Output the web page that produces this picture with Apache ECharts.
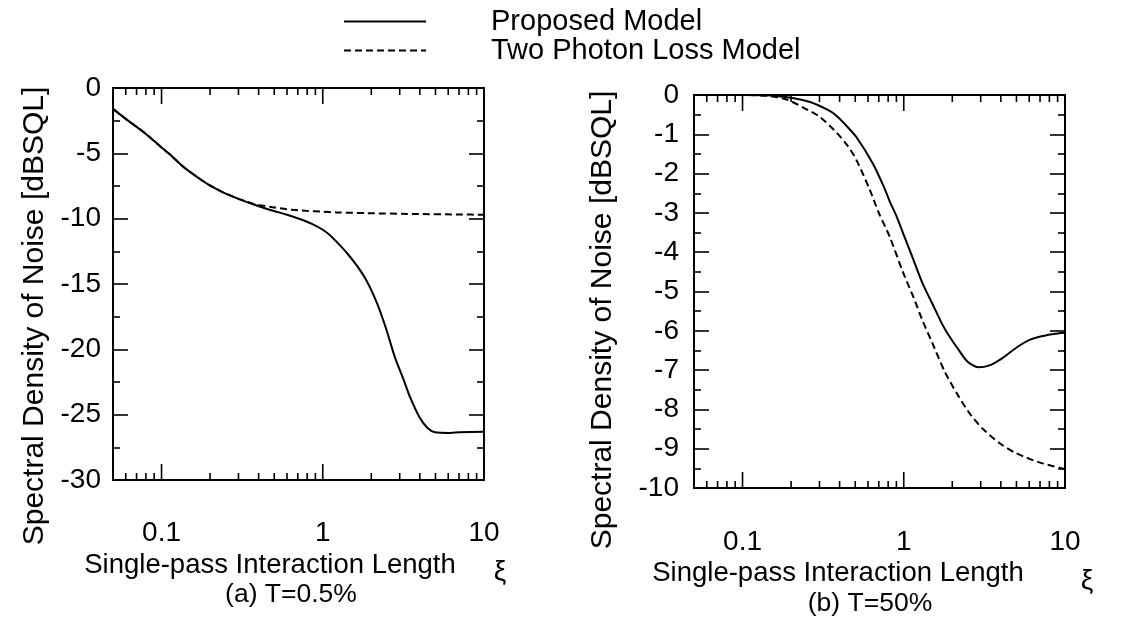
<!DOCTYPE html>
<html>
<head>
<meta charset="utf-8">
<script src="https://cdn.jsdelivr.net/npm/echarts@6/dist/echarts.min.js"></script>
<style>
  html, body { margin: 0; padding: 0; background: #fff; }
  #chart { width: 1128px; height: 618px; }
</style>
</head>
<body>
<div id="chart"></div>
<script>
// (a) T = 0.5 %
const xiProposedA = [0.05, 0.062, 0.078, 0.1, 0.112, 0.137, 0.168, 0.197, 0.242, 0.303, 0.381, 0.478, 0.6, 0.75, 0.857, 1.0, 1.116, 1.45, 1.81, 2.15, 2.46, 2.8, 3.2, 3.49, 3.98, 4.45, 4.96, 6.17, 7.04, 10];
const proposedA = [-1.6, -2.5, -3.4, -4.55, -5.05, -6.05, -6.85, -7.42, -8.0, -8.5, -8.95, -9.35, -9.7, -10.1, -10.4, -10.85, -11.3, -12.8, -14.45, -16.35, -18.35, -20.6, -22.45, -23.7, -25.2, -26.0, -26.35, -26.4, -26.35, -26.3];
const xiTwoPhotonA = [0.05, 0.062, 0.078, 0.1, 0.112, 0.137, 0.168, 0.197, 0.242, 0.303, 0.381, 0.478, 0.6, 0.785, 1.0, 1.22, 1.89, 3.64, 7.04, 10];
const twoPhotonA = [-1.6, -2.5, -3.4, -4.55, -5.05, -6.05, -6.85, -7.42, -8.0, -8.5, -8.9, -9.1, -9.28, -9.4, -9.47, -9.52, -9.58, -9.64, -9.68, -9.7];

// (b) T = 50 %
const xiProposedB = [0.05, 0.1, 0.15, 0.19, 0.262, 0.345, 0.382, 0.44, 0.508, 0.644, 0.755, 0.817, 0.905, 0.987, 1.15, 1.31, 1.5, 1.74, 1.89, 2.16, 2.48, 2.9, 3.4, 4.07, 5.11, 6.13, 7.35, 8.5, 10];
const proposedB = [0, 0, -0.01, -0.06, -0.18, -0.4, -0.53, -0.78, -1.07, -1.75, -2.35, -2.7, -3.1, -3.5, -4.2, -4.8, -5.3, -5.85, -6.1, -6.45, -6.78, -6.93, -6.88, -6.7, -6.4, -6.22, -6.13, -6.08, -6.05];
const xiTwoPhotonB = [0.05, 0.1, 0.15, 0.19, 0.238, 0.30, 0.382, 0.45, 0.508, 0.614, 0.7, 0.817, 0.987, 1.15, 1.31, 1.5, 1.8, 2.16, 2.59, 3.1, 3.9, 4.89, 6.13, 7.35, 10];
const twoPhotonB = [0, 0, -0.03, -0.12, -0.32, -0.55, -0.95, -1.3, -1.65, -2.4, -3.0, -3.6, -4.5, -5.15, -5.75, -6.3, -7.05, -7.63, -8.13, -8.5, -8.85, -9.1, -9.27, -9.38, -9.52];

// Log-axis tick marks: decades (major) and 2..9 multiples (minor)
const xMajorTicks = [0.1, 1, 10];
const xMinorTicks = [0.06, 0.07, 0.08, 0.09, 0.2, 0.3, 0.4, 0.5, 0.6, 0.7, 0.8, 0.9, 2, 3, 4, 5, 6, 7, 8, 9];
const xRange = [0.05, 10];
const yRangeA = [-30, 0];
const yRangeB = [-10, 0];

const FONT = "'Liberation Sans', Arial, Helvetica, sans-serif";
const zip = (xs, ys) => xs.map((x, i) => [x, ys[i]]);

const tickData = xMajorTicks.map(v => [v, 1]).concat(xMinorTicks.map(v => [v, 0]));

// Inward tick marks on the bottom and top edges of a log x axis
function tickSeries(gridIndex, yRange) {
  return {
    type: 'custom',
    xAxisIndex: gridIndex,
    yAxisIndex: gridIndex * 2,
    silent: true,
    clip: false,
    z: 5,
    data: tickData,
    encode: { x: 0 },
    renderItem(params, api) {
      const v = api.value(0);
      const len = api.value(1) === 1 ? 16 : 7;
      const b = api.coord([v, yRange[0]]);
      const t = api.coord([v, yRange[1]]);
      const st = { stroke: '#000', lineWidth: 1.6 };
      return {
        type: 'group',
        children: [
          { type: 'line', shape: { x1: b[0], y1: b[1], x2: b[0], y2: b[1] - len }, style: st },
          { type: 'line', shape: { x1: t[0], y1: t[1], x2: t[0], y2: t[1] + len }, style: st }
        ]
      };
    }
  };
}

function xAxisOf(gridIndex, margin) {
  return {
    type: 'log',
    logBase: 10,
    gridIndex,
    min: xRange[0],
    max: xRange[1],
    axisLine: { show: false },
    axisTick: { show: false },
    splitLine: { show: false },
    axisLabel: {
      showMinLabel: false,
      color: '#000',
      fontSize: 28,
      fontFamily: FONT,
      margin
    }
  };
}

function yAxesOf(gridIndex, range, step) {
  const common = {
    type: 'value',
    gridIndex,
    min: range[0],
    max: range[1],
    interval: step,
    axisLine: { show: false },
    splitLine: { show: false },
    axisTick: { show: true, inside: true, length: 15, lineStyle: { color: '#000', width: 1.6 } },
    minorTick: { show: true, splitNumber: 2, length: 7, lineStyle: { color: '#000', width: 1.6 } },
    minorSplitLine: { show: false }
  };
  return [
    Object.assign({}, common, {
      position: 'left',
      axisLabel: { color: '#000', fontSize: 28, fontFamily: FONT, margin: gridIndex === 0 ? 12 : 15 }
    }),
    Object.assign({}, common, {
      position: 'right',
      axisLabel: { show: false }
    })
  ];
}

function label(text, x, y, size, rotate) {
  return {
    type: 'text', x, y, rotation: rotate ? Math.PI / 2 : 0,
    style: { text, font: size + 'px ' + FONT, fill: '#000', textAlign: 'center', textVerticalAlign: 'middle' }
  };
}

const solidStyle = { color: '#000', width: 2 };
const dashStyle = { color: '#000', width: 2, type: [7, 4] };

const chart = echarts.init(document.getElementById('chart'), null, { renderer: 'canvas' });

chart.setOption({
  animation: false,
  backgroundColor: '#fff',
  textStyle: { fontFamily: FONT, color: '#000' },
  legend: {
    left: 338,
    top: 2,
    orient: 'vertical',
    itemWidth: 82,
    itemHeight: 28,
    itemGap: 0,
    selectedMode: false,
    itemStyle: { opacity: 0 },
    data: ['Proposed Model', 'Two Photon Loss Model'],
    textStyle: { fontSize: 29, lineHeight: 28, fontFamily: FONT, color: '#000', padding: [0, 0, 0, 60] }
  },
  grid: [
    { left: 113, top: 88, width: 371, height: 392, show: true, borderColor: '#000', borderWidth: 2, backgroundColor: 'transparent' },
    { left: 694, top: 95, width: 371, height: 393, show: true, borderColor: '#000', borderWidth: 2, backgroundColor: 'transparent' }
  ],
  xAxis: [xAxisOf(0, 39), xAxisOf(1, 40)],
  yAxis: yAxesOf(0, yRangeA, 5).concat(yAxesOf(1, yRangeB, 1)),
  graphic: [
    label('Single-pass Interaction Length', 270, 565, 27.5),
    label('ξ', 500, 572, 28),
    label('(a) T=0.5%', 291, 595, 26.5),
    label('Spectral Density of Noise [dBSQL]', 35, 316, 30, true),
    label('Single-pass Interaction Length', 838, 573, 27.5),
    label('ξ', 1087, 581, 28),
    label('(b) T=50%', 870, 604, 26.5),
    label('Spectral Density of Noise [dBSQL]', 603, 320, 30, true)
  ],
  series: [
    { name: 'Proposed Model', type: 'line', xAxisIndex: 0, yAxisIndex: 0, data: zip(xiProposedA, proposedA), symbol: 'none', smooth: 0.25, lineStyle: solidStyle, itemStyle: { color: '#000' }, z: 3 },
    { name: 'Two Photon Loss Model', type: 'line', xAxisIndex: 0, yAxisIndex: 0, data: zip(xiTwoPhotonA, twoPhotonA), symbol: 'none', smooth: 0.25, lineStyle: dashStyle, itemStyle: { color: '#000' }, z: 2 },
    { name: 'Proposed Model', type: 'line', xAxisIndex: 1, yAxisIndex: 2, data: zip(xiProposedB, proposedB), symbol: 'none', smooth: 0.25, lineStyle: solidStyle, itemStyle: { color: '#000' }, z: 3 },
    { name: 'Two Photon Loss Model', type: 'line', xAxisIndex: 1, yAxisIndex: 2, data: zip(xiTwoPhotonB, twoPhotonB), symbol: 'none', smooth: 0.25, lineStyle: dashStyle, itemStyle: { color: '#000' }, z: 2 },
    tickSeries(0, yRangeA),
    tickSeries(1, yRangeB)
  ]
});
</script>
</body>
</html>
